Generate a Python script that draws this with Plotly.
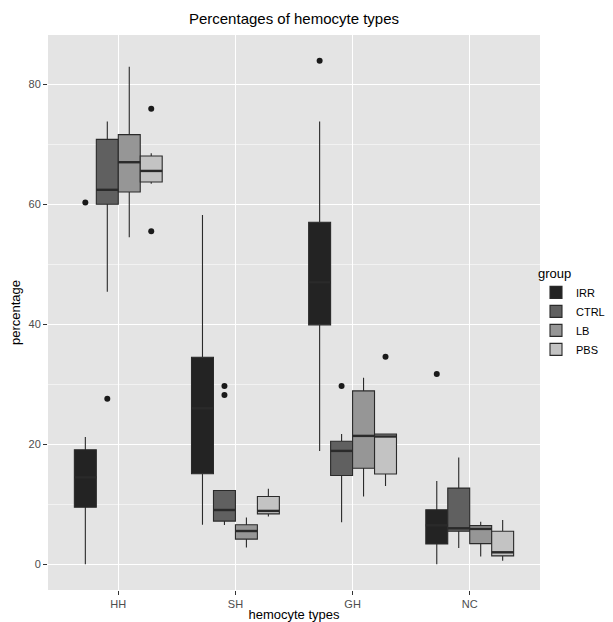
import plotly.graph_objects as go

categories = ["HH", "SH", "GH", "NC"]
groups = ["IRR", "CTRL", "LB", "PBS"]
colors = ["#232323", "#606060", "#969696", "#c3c3c3"]

irr_q1 = [9.5, 15.1, 39.9, 3.4]
irr_med = [14.5, 26.0, 47.0, 6.5]
irr_q3 = [19.1, 34.5, 57.0, 9.1]
irr_lo = [0.0, 6.6, 18.9, 0.0]
irr_hi = [21.2, 58.2, 73.8, 13.9]
irr_out_cat = ["HH", "GH", "NC"]
irr_out_val = [60.3, 83.9, 31.7]

ctrl_q1 = [60.0, 7.2, 14.8, 5.5]
ctrl_med = [62.4, 9.05, 18.9, 6.0]
ctrl_q3 = [70.8, 12.3, 20.5, 12.7]
ctrl_lo = [45.4, 6.55, 7.0, 2.7]
ctrl_hi = [73.8, 12.3, 21.7, 17.8]
ctrl_out_cat = ["HH", "SH", "SH", "GH"]
ctrl_out_val = [27.6, 29.7, 28.2, 29.7]

lb_q1 = [62.05, 4.2, 16.0, 3.45]
lb_med = [67.0, 5.55, 21.4, 5.9]
lb_q3 = [71.6, 6.6, 28.9, 6.45]
lb_lo = [54.5, 2.8, 11.3, 1.3]
lb_hi = [82.9, 7.8, 31.1, 7.1]
lb_out_cat = []
lb_out_val = []

pbs_q1 = [63.7, 8.4, 15.05, 1.4]
pbs_med = [65.55, 8.9, 21.3, 2.0]
pbs_q3 = [68.05, 11.3, 21.7, 5.5]
pbs_lo = [63.4, 7.95, 13.05, 0.6]
pbs_hi = [68.5, 12.6, 21.7, 7.4]
pbs_out_cat = ["HH", "HH", "GH"]
pbs_out_val = [75.9, 55.5, 34.6]

series = [
    (irr_q1, irr_med, irr_q3, irr_lo, irr_hi, irr_out_cat, irr_out_val),
    (ctrl_q1, ctrl_med, ctrl_q3, ctrl_lo, ctrl_hi, ctrl_out_cat, ctrl_out_val),
    (lb_q1, lb_med, lb_q3, lb_lo, lb_hi, lb_out_cat, lb_out_val),
    (pbs_q1, pbs_med, pbs_q3, pbs_lo, pbs_hi, pbs_out_cat, pbs_out_val),
]

dodge = 0.75
n = len(groups)
bw = dodge / n
line_col = "#2a2a2a"

fig = go.Figure()
for gi, (g, col, s) in enumerate(zip(groups, colors, series)):
    q1, med, q3, lo, hi, ocat, oval = s
    off = -dodge / 2 + bw * (gi + 0.5)
    xs = [categories.index(c) + 1 + off for c in categories]
    fig.add_trace(go.Box(
        name=g, x=xs, q1=q1, median=med, q3=q3,
        lowerfence=lo, upperfence=hi,
        width=bw * 0.999, fillcolor=col,
        line=dict(color=line_col, width=1.1),
        whiskerwidth=0, boxpoints=False, showlegend=True,
        hoverinfo="skip",
    ))
    # thicker median lines
    mx, my = [], []
    for x, m in zip(xs, med):
        mx += [x - bw / 2, x + bw / 2, None]
        my += [m, m, None]
    fig.add_trace(go.Scatter(x=mx, y=my, mode="lines",
                             line=dict(color=line_col, width=2.4),
                             showlegend=False, hoverinfo="skip"))
    if ocat:
        ox = [categories.index(c) + 1 + off for c in ocat]
        fig.add_trace(go.Scatter(x=ox, y=oval, mode="markers",
                                 marker=dict(color="#1a1a1a", size=6),
                                 showlegend=False, hoverinfo="skip"))

# page body has an 8px margin, so the figure is shifted by 8px
W, H = 605, 614
ml, mr, mt, mb = 40, 73, 27, 32
pw = W - ml - mr

fig.update_layout(
    width=W, height=H,
    margin=dict(l=ml, r=mr, t=mt, b=mb, autoexpand=False),
    paper_bgcolor="white", plot_bgcolor="#e4e4e4",
    font=dict(family="Liberation Sans, Arial, sans-serif", color="#000000"),
    title=dict(text="Percentages of hemocyte types", x=(ml + pw / 2) / W,
               xanchor="center", y=1 - 11 / H, yanchor="middle",
               font=dict(size=15, color="#000000")),
    showlegend=True,
    legend=dict(title=dict(text="group", font=dict(size=13)),
                x=1 - 4 / pw, xanchor="left", y=0.5, yanchor="middle",
                font=dict(size=11), bgcolor="rgba(0,0,0,0)",
                itemwidth=30, tracegroupgap=0),
    xaxis=dict(range=[0.4, 4.6], tickvals=[1, 2, 3, 4], ticktext=categories,
               showgrid=True, gridcolor="white", gridwidth=1.3,
               zeroline=False, ticks="outside", ticklen=4, tickcolor="#333333",
               tickfont=dict(size=11, color="#4d4d4d"),
               title=dict(text="hemocyte types", font=dict(size=13), standoff=4),
               automargin=False),
    yaxis=dict(range=[-4.28, 88.2], tickvals=[0, 20, 40, 60, 80],
               showgrid=True, gridcolor="white", gridwidth=1.3,
               minor=dict(tickvals=[10, 30, 50, 70], showgrid=True,
                          gridcolor="#f2f2f2", gridwidth=0.6, ticks=""),
               zeroline=False, ticks="outside", ticklen=4, tickcolor="#333333",
               tickfont=dict(size=11, color="#4d4d4d"),
               title=dict(text="percentage", font=dict(size=13), standoff=6),
               automargin=False),
)

fig.write_html("out.html")
